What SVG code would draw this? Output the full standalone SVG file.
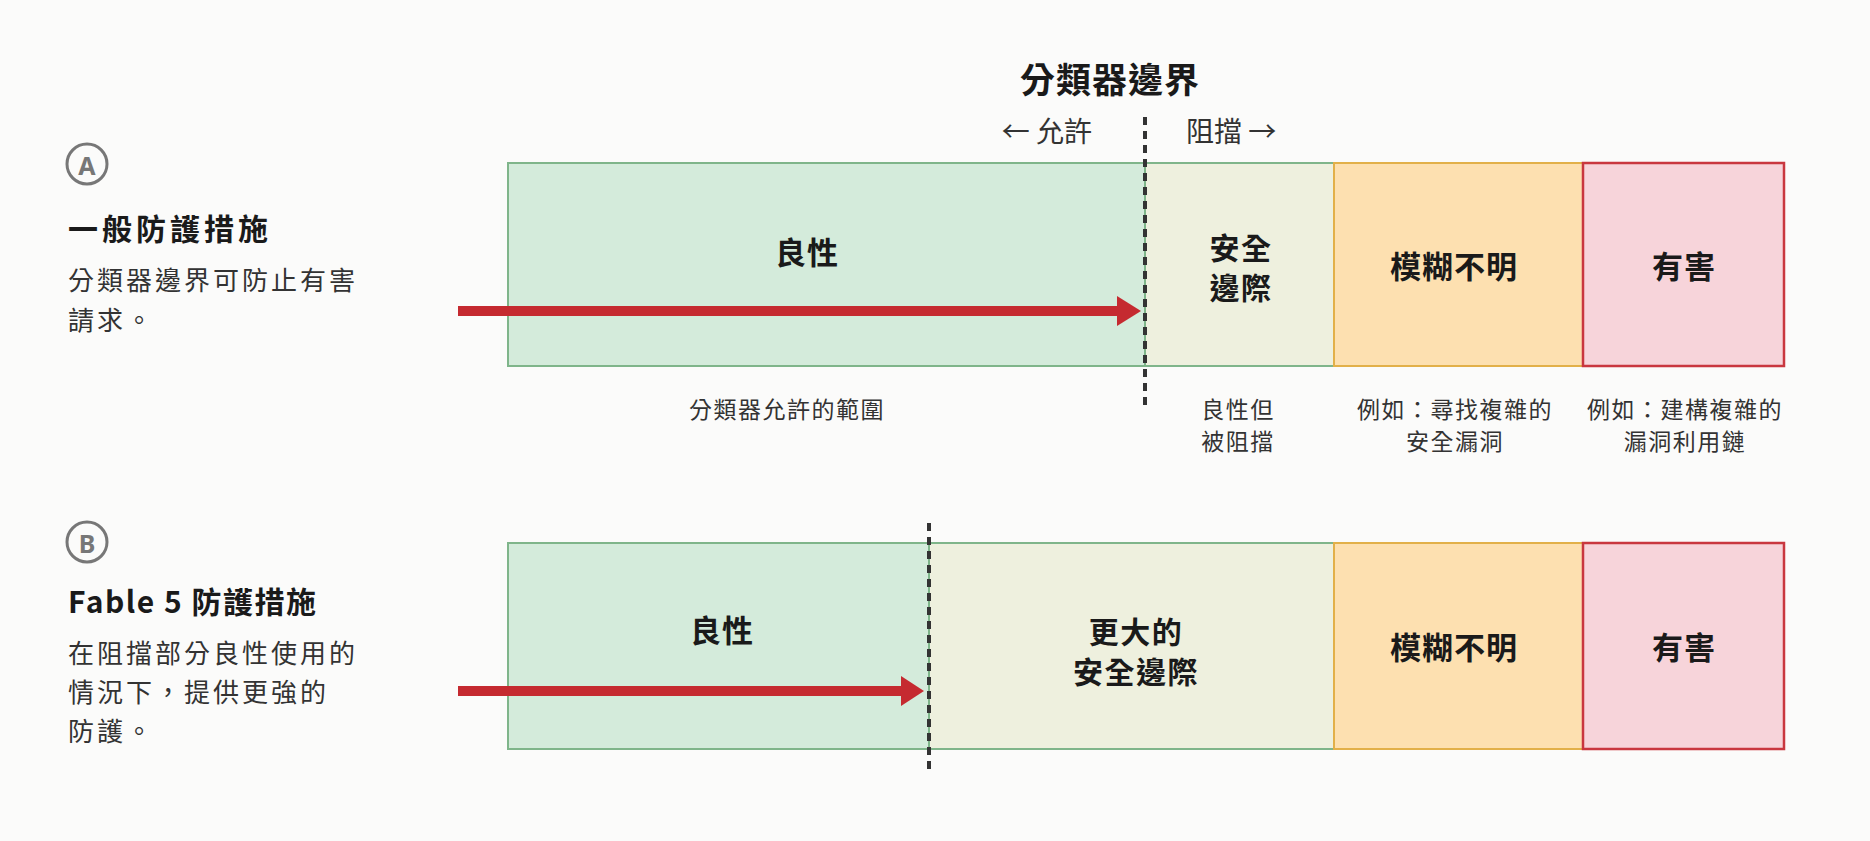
<svg xmlns="http://www.w3.org/2000/svg" width="1870" height="841" viewBox="0 0 1870 841">
<style>
text{font-family:"Noto Sans CJK TC","Noto Sans",sans-serif;dominant-baseline:central;fill:#1a1a1a}
.h{font-size:35px;font-weight:700;letter-spacing:1px;text-anchor:middle}
.dir{font-size:28px;fill:#333}
.ttl{font-size:30px;font-weight:700;letter-spacing:4px}
.ttl2{font-size:30px;font-weight:700;letter-spacing:1.5px}
.body{font-size:26px;letter-spacing:3px;fill:#333}
.lbl{font-size:31px;font-weight:700;text-anchor:middle;letter-spacing:1px}
.lbl2{font-size:30px;font-weight:700;text-anchor:middle;letter-spacing:1.5px}
.sub{font-size:23px;text-anchor:middle;letter-spacing:1.5px;fill:#333}
.circ{fill:none;stroke:#777;stroke-width:3}
.cl{font-size:25px;font-weight:700;fill:#777;text-anchor:middle;font-family:"Noto Sans",sans-serif}
.g{fill:#D4EBDB;stroke:#7FB58A;stroke-width:2}
.s{fill:#EEF0DE;stroke:#7FB58A;stroke-width:2}
.o{fill:#FDE0B0;stroke:#E2B049;stroke-width:2}
.r{fill:#F7D4DA;stroke:#C9373F;stroke-width:2.5}
.dash{stroke:#333;stroke-width:4;stroke-dasharray:8 6;fill:none}
.arr{stroke:#C52A30;stroke-width:10;fill:none}
.ah{fill:#C52A30}
</style>
<rect width="1870" height="841" fill="#FBFBFA"/>

<g id="header">
<text class="h" x="1110" y="77">分類器邊界</text>
<text class="dir" x="1092" y="130" text-anchor="end">← 允許</text>
<text class="dir" x="1186" y="130">阻擋 →</text>
</g>

<g id="sectionA-label">
<circle class="circ" cx="87" cy="164" r="20"/>
<text class="cl" x="87" y="165">A</text>
<text class="ttl" x="68" y="227">一般防護措施</text>
<text class="body" x="68" y="278">分類器邊界可防止有害</text>
<text class="body" x="68" y="318">請求。</text>
</g>

<g id="A-benign">
<rect class="g" x="508" y="163" width="637" height="203"/>
<text class="lbl" x="807" y="250">良性</text>
<text class="sub" x="787" y="408">分類器允許的範圍</text>
</g>
<g id="A-margin">
<rect class="s" x="1145" y="163" width="189" height="203"/>
<text class="lbl2"><tspan x="1241" y="246">安全</tspan><tspan x="1241" y="286">邊際</tspan></text>
<text class="sub"><tspan x="1238" y="408">良性但</tspan><tspan x="1238" y="440">被阻擋</tspan></text>
</g>
<g id="A-ambiguous">
<rect class="o" x="1334" y="163" width="249" height="203"/>
<text class="lbl" x="1454" y="264">模糊不明</text>
<text class="sub"><tspan x="1455" y="408">例如：尋找複雜的</tspan><tspan x="1455" y="440">安全漏洞</tspan></text>
</g>
<g id="A-harmful">
<rect class="r" x="1583" y="163" width="201" height="203"/>
<text class="lbl" x="1684" y="264">有害</text>
<text class="sub"><tspan x="1685" y="408">例如：建構複雜的</tspan><tspan x="1685" y="440">漏洞利用鏈</tspan></text>
</g>

<g id="sectionB-label">
<circle class="circ" cx="87" cy="542" r="20"/>
<text class="cl" x="87" y="543">B</text>
<text class="ttl2" x="68" y="600">Fable 5 防護措施</text>
<text class="body" x="68" y="651">在阻擋部分良性使用的</text>
<text class="body" x="68" y="690">情況下，提供更強的</text>
<text class="body" x="68" y="729">防護。</text>
</g>

<g id="B-benign">
<rect class="g" x="508" y="543" width="421" height="206"/>
<text class="lbl" x="722" y="628">良性</text>
</g>
<g id="B-margin">
<rect class="s" x="929" y="543" width="405" height="206"/>
<text class="lbl2"><tspan x="1136" y="630">更大的</tspan><tspan x="1136" y="670">安全邊際</tspan></text>
</g>
<g id="B-ambiguous">
<rect class="o" x="1334" y="543" width="249" height="206"/>
<text class="lbl" x="1454" y="645">模糊不明</text>
</g>
<g id="B-harmful">
<rect class="r" x="1583" y="543" width="201" height="206"/>
<text class="lbl" x="1684" y="645">有害</text>
</g>

<g id="connectors">
<line class="dash" x1="1145" y1="117" x2="1145" y2="405"/>
<line class="dash" x1="929" y1="523" x2="929" y2="772"/>
<line class="arr" x1="458" y1="311" x2="1120" y2="311"/>
<polygon class="ah" points="1117,296 1141,311 1117,326"/>
<line class="arr" x1="458" y1="691" x2="904" y2="691"/>
<polygon class="ah" points="901,676 924,691 901,706"/>
</g>
</svg>
